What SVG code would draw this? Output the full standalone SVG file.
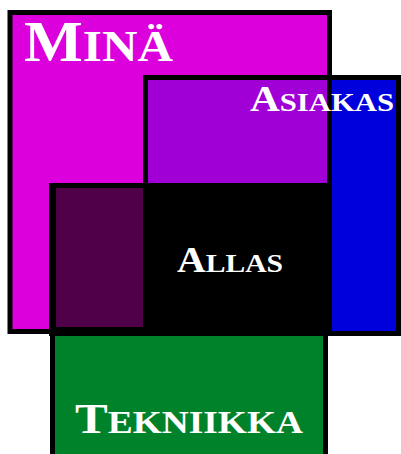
<svg xmlns="http://www.w3.org/2000/svg" width="401" height="454" viewBox="0 0 401 454">
<style>
.box{stroke:#000;stroke-width:5}
.lbl{font-family:"Liberation Serif","DejaVu Serif",serif;font-weight:bold;fill:#fff}
</style>
<rect width="401" height="454" fill="#fff"/>
<g id="tekniikka">
<rect class="box" x="52.5" y="333" width="273" height="140" fill="#00822a"/>
</g>
<g id="mina">
<rect class="box" x="10" y="12.5" width="319.5" height="319" fill="#dc00dc"/>
</g>
<g id="asiakas">
<rect class="box" x="145.5" y="77.5" width="253" height="256" fill="#0000dc"/>
</g>
<g id="mina-asiakas">
<rect class="box" x="145.5" y="77.5" width="184" height="256" fill="#a000d6"/>
</g>
<g id="allas">
<rect class="box" x="51.5" y="185.5" width="278" height="148" fill="#000"/>
<rect x="56" y="188" width="87" height="139" fill="#4f0048"/>
</g>
<g id="labels">
<text class="lbl" x="24" y="61" textLength="149" lengthAdjust="spacingAndGlyphs"><tspan font-size="57">M</tspan><tspan font-size="45">INÄ</tspan></text>
<text class="lbl" x="250" y="111" textLength="144" lengthAdjust="spacingAndGlyphs"><tspan font-size="35">A</tspan><tspan font-size="26">SIAKAS</tspan></text>
<text class="lbl" x="177" y="272" textLength="106" lengthAdjust="spacingAndGlyphs"><tspan font-size="35">A</tspan><tspan font-size="26">LLAS</tspan></text>
<text class="lbl" x="75" y="433" textLength="228" lengthAdjust="spacingAndGlyphs"><tspan font-size="42">T</tspan><tspan font-size="32">EKNIIKKA</tspan></text>
</g>
</svg>
